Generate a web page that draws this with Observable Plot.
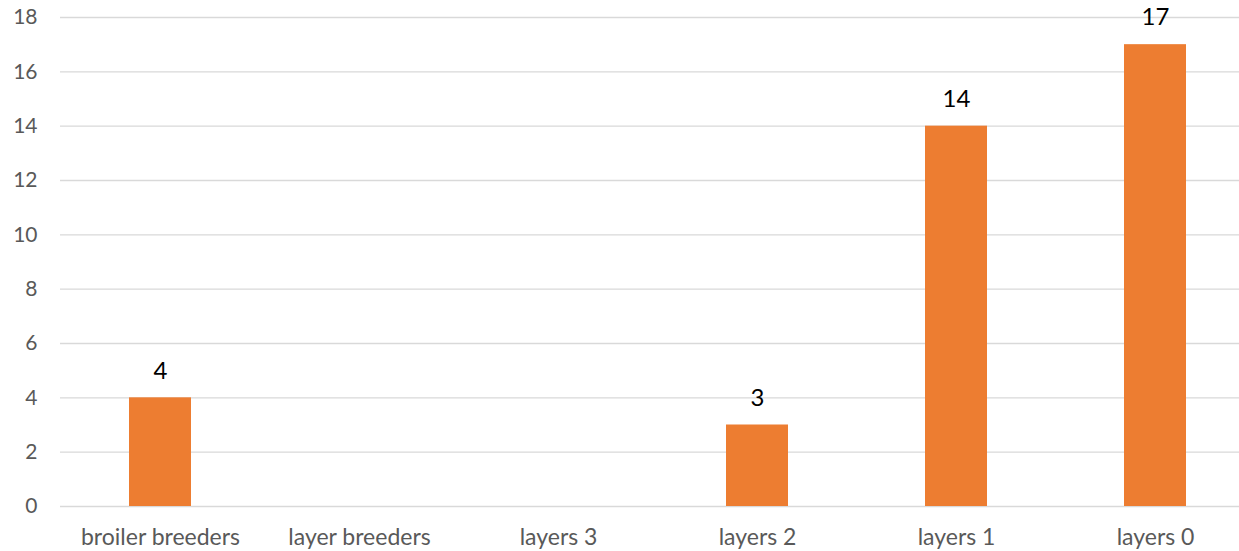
<!DOCTYPE html>
<html>
<head>
<meta charset="utf-8">
<script src="https://cdn.jsdelivr.net/npm/d3@7"></script>
<script src="https://cdn.jsdelivr.net/npm/@observablehq/plot@0.6"></script>
<style>
  html, body { margin: 0; padding: 0; background: #fff; overflow: hidden; }
  #chart svg { display: block; max-width: none !important; }
</style>
</head>
<body>
<div id="chart"></div>
<script>
// Flock categories and their counts
const categories = ["broiler breeders", "layer breeders", "layers 3", "layers 2", "layers 1", "layers 0"];
const counts = [4, 0, 0, 3, 14, 17];
const yTicks = [0, 2, 4, 6, 8, 10, 12, 14, 16, 18];

const data = categories.map((c, i) => ({category: c, value: counts[i]}));
const labelled = data.filter(d => d.value > 0);

const font = "Lato, 'Open Sans', sans-serif";

const chart = Plot.plot({
  width: 1254,
  height: 551,
  marginTop: 17,
  marginBottom: 45,
  marginLeft: 60,
  marginRight: 0,
  style: {fontFamily: font, background: "#fff", maxWidth: "none"},
  x: {domain: categories, paddingInner: 0.69, paddingOuter: 0.345, label: null},
  y: {domain: [0, 18], ticks: yTicks, label: null},
  marks: [
    Plot.gridY(yTicks, {stroke: "#d9d9d9", strokeOpacity: 1, strokeWidth: 1.3}),
    Plot.barY(data, {x: "category", y: "value", fill: "#ed7d31"}),
    Plot.text(labelled, {
      x: "category", y: "value", text: d => String(d.value),
      dy: -27, fontSize: 24, fill: "#000"
    }),
    Plot.axisY(yTicks, {
      tickSize: 0, tickPadding: 23, fontSize: 21, fill: "#595959",
      textAnchor: "end", label: null
    }),
    Plot.axisX({
      tickSize: 0, tickPadding: 22, fontSize: 23, fill: "#595959", label: null
    })
  ]
});

document.getElementById("chart").appendChild(chart);
</script>
</body>
</html>
